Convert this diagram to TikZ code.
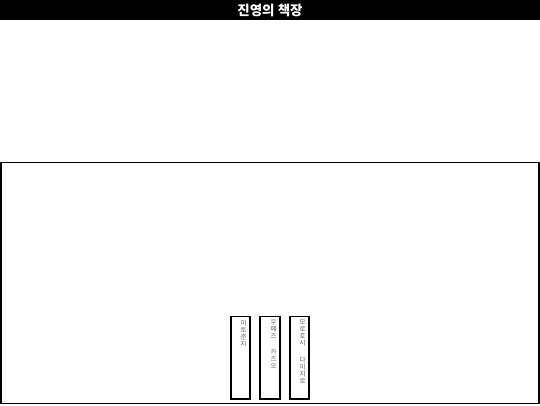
\documentclass[tikz,border=0pt]{standalone}
\usepackage{fontspec}
\setmainfont{Noto Sans CJK KR}
\newfontfamily\kr{Noto Sans CJK KR}
\begin{document}
\begin{tikzpicture}[x=1pt,y=-1pt,
  bookbox/.style={draw=black,line width=1.3pt,fill=white},
  spine/.style={font=\kr\fontsize{6.5}{7}\selectfont,text=black!60,align=center,anchor=north,inner sep=0pt},
  titlebar/.style={fill=black,draw=none}]
\useasboundingbox (0,0) rectangle (540,405);
\fill[white] (0,0) rectangle (540,405);
\fill[titlebar] (0,0) rectangle (540,20);
\node[font=\kr\bfseries\fontsize{13.5}{15}\selectfont,text=white] (title) at (270,10.5) {진영의 책장};
\draw[line width=1.5pt] (1,162.5) rectangle (539,403.5);
\draw[bookbox] (231,316.5) rectangle (250,399) coordinate (b1);
\draw[bookbox] (260,316.5) rectangle (280,399) coordinate (b2);
\draw[bookbox] (290,316.5) rectangle (309,399) coordinate (b3);
\node[spine] (t1) at (243.5,319.5) {이\\토\\준\\지};
\node[spine] (t2) at (273.5,319.5) {우\\메\\즈\\[9pt]카\\즈\\오};
\node[spine] (t3) at (302.5,319.5) {모\\로\\호\\시\\[10pt]다\\이\\지\\로};
\end{tikzpicture}
\end{document}
